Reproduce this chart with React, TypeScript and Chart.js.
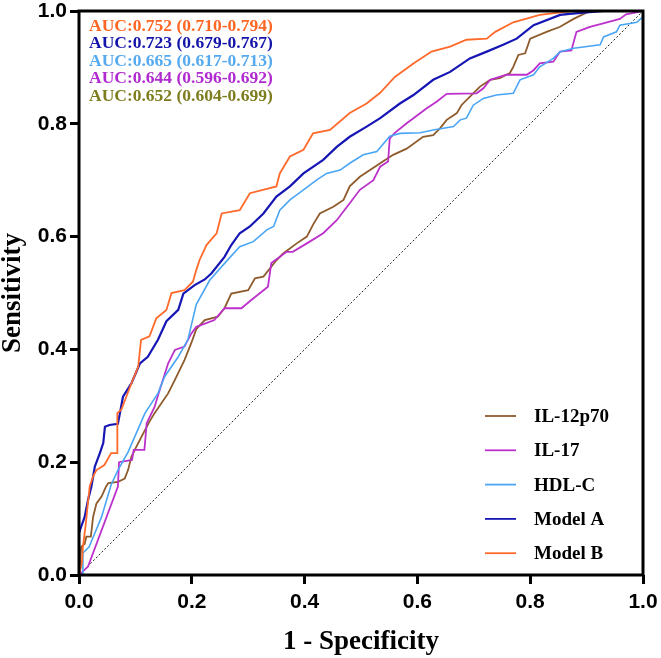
import React, { useEffect, useRef } from "react";
import { Chart, registerables } from "chart.js";
Chart.register(...registerables);

// ---- Data ----
const seriesNames = ["IL-12p70", "IL-17", "HDL-C", "Model A", "Model B"];
const seriesColors = ["#8E5B2C", "#BC30CC", "#4AA6F5", "#1616B4", "#FF6A2B"];

const il12_fpr = [0, 0.004, 0.01, 0.013, 0.021, 0.025, 0.031, 0.04, 0.048, 0.052, 0.069, 0.081, 0.087, 0.093, 0.102, 0.116, 0.125, 0.134, 0.158, 0.17, 0.187, 0.199, 0.208, 0.223, 0.246, 0.258, 0.27, 0.3, 0.312, 0.327, 0.35, 0.362, 0.386, 0.404, 0.416, 0.427, 0.451, 0.469, 0.48, 0.498, 0.516, 0.534, 0.557, 0.581, 0.61, 0.628, 0.64, 0.652, 0.67, 0.678, 0.699, 0.711, 0.729, 0.746, 0.764, 0.77, 0.779, 0.791, 0.8, 0.829, 0.853, 0.877, 0.906, 1.0];
const il12_tpr = [0, 0.05, 0.055, 0.068, 0.068, 0.103, 0.127, 0.139, 0.157, 0.163, 0.165, 0.171, 0.186, 0.21, 0.228, 0.255, 0.272, 0.287, 0.322, 0.346, 0.381, 0.411, 0.436, 0.452, 0.458, 0.473, 0.499, 0.505, 0.526, 0.529, 0.558, 0.57, 0.588, 0.6, 0.623, 0.641, 0.653, 0.665, 0.689, 0.706, 0.718, 0.73, 0.745, 0.756, 0.777, 0.78, 0.792, 0.807, 0.819, 0.833, 0.854, 0.866, 0.878, 0.881, 0.89, 0.901, 0.922, 0.925, 0.951, 0.963, 0.972, 0.986, 1.0, 1.0];

const il17_fpr = [0, 0.016, 0.069, 0.071, 0.094, 0.097, 0.116, 0.12, 0.134, 0.143, 0.158, 0.17, 0.187, 0.199, 0.208, 0.24, 0.258, 0.288, 0.306, 0.335, 0.341, 0.368, 0.379, 0.404, 0.433, 0.457, 0.48, 0.498, 0.522, 0.534, 0.548, 0.551, 0.56, 0.581, 0.593, 0.616, 0.634, 0.652, 0.705, 0.717, 0.729, 0.758, 0.794, 0.806, 0.817, 0.841, 0.853, 0.873, 0.882, 0.906, 0.936, 0.959, 0.97, 1.0];
const il17_tpr = [0, 0.015, 0.157, 0.2, 0.204, 0.222, 0.222, 0.269, 0.298, 0.328, 0.375, 0.399, 0.405, 0.428, 0.44, 0.452, 0.473, 0.473, 0.488, 0.511, 0.553, 0.573, 0.573, 0.588, 0.606, 0.629, 0.659, 0.683, 0.7, 0.724, 0.733, 0.774, 0.784, 0.801, 0.81, 0.827, 0.839, 0.853, 0.854, 0.863, 0.878, 0.887, 0.887, 0.895, 0.907, 0.91, 0.928, 0.93, 0.963, 0.972, 0.98, 0.986, 0.994, 1.0];

const hdl_fpr = [0, 0.007, 0.007, 0.018, 0.028, 0.04, 0.057, 0.069, 0.087, 0.117, 0.14, 0.152, 0.176, 0.193, 0.208, 0.232, 0.262, 0.285, 0.309, 0.333, 0.345, 0.356, 0.374, 0.398, 0.421, 0.439, 0.463, 0.48, 0.504, 0.528, 0.551, 0.569, 0.605, 0.628, 0.664, 0.676, 0.687, 0.699, 0.717, 0.74, 0.77, 0.782, 0.806, 0.817, 0.841, 0.853, 0.877, 0.924, 0.93, 0.953, 0.959, 0.989, 1.0, 1.0];
const hdl_tpr = [0, 0, 0.039, 0.05, 0.074, 0.103, 0.16, 0.186, 0.218, 0.287, 0.322, 0.352, 0.387, 0.417, 0.48, 0.523, 0.557, 0.582, 0.591, 0.612, 0.618, 0.647, 0.665, 0.683, 0.7, 0.712, 0.718, 0.73, 0.745, 0.751, 0.778, 0.783, 0.784, 0.789, 0.795, 0.807, 0.81, 0.833, 0.845, 0.851, 0.854, 0.878, 0.887, 0.901, 0.916, 0.928, 0.934, 0.94, 0.954, 0.963, 0.975, 0.98, 0.99, 1.0];

const modelA_fpr = [0, 0, 0.004, 0.01, 0.016, 0.022, 0.028, 0.037, 0.043, 0.046, 0.054, 0.069, 0.078, 0.093, 0.108, 0.122, 0.14, 0.155, 0.176, 0.185, 0.205, 0.223, 0.235, 0.258, 0.27, 0.285, 0.303, 0.327, 0.35, 0.374, 0.398, 0.433, 0.457, 0.48, 0.51, 0.534, 0.569, 0.593, 0.628, 0.658, 0.693, 0.723, 0.752, 0.776, 0.806, 0.853, 0.87, 0.93, 1.0];
const modelA_tpr = [0, 0.074, 0.086, 0.103, 0.133, 0.157, 0.192, 0.216, 0.234, 0.263, 0.266, 0.268, 0.316, 0.34, 0.375, 0.387, 0.417, 0.45, 0.47, 0.499, 0.514, 0.524, 0.535, 0.564, 0.585, 0.606, 0.618, 0.641, 0.671, 0.689, 0.712, 0.736, 0.759, 0.777, 0.795, 0.81, 0.836, 0.851, 0.878, 0.892, 0.916, 0.928, 0.94, 0.951, 0.975, 0.993, 0.995, 1.0, 1.0];

const modelB_fpr = [0, 0.005, 0.007, 0.012, 0.015, 0.019, 0.025, 0.031, 0.045, 0.057, 0.068, 0.068, 0.075, 0.093, 0.105, 0.11, 0.125, 0.137, 0.155, 0.164, 0.187, 0.202, 0.208, 0.214, 0.226, 0.244, 0.253, 0.285, 0.303, 0.35, 0.356, 0.374, 0.398, 0.415, 0.445, 0.48, 0.51, 0.534, 0.56, 0.593, 0.625, 0.658, 0.687, 0.723, 0.738, 0.77, 0.817, 0.858, 0.875, 1.0];
const modelB_tpr = [0, 0.02, 0.05, 0.09, 0.12, 0.157, 0.175, 0.186, 0.195, 0.216, 0.216, 0.287, 0.293, 0.34, 0.369, 0.417, 0.423, 0.455, 0.47, 0.5, 0.505, 0.52, 0.541, 0.559, 0.585, 0.606, 0.641, 0.647, 0.677, 0.689, 0.712, 0.742, 0.754, 0.783, 0.789, 0.819, 0.836, 0.855, 0.883, 0.907, 0.928, 0.937, 0.949, 0.951, 0.963, 0.98, 0.993, 0.998, 1.0, 1.0];

const aucTexts = [
  "AUC:0.752 (0.710-0.794)",
  "AUC:0.723 (0.679-0.767)",
  "AUC:0.665 (0.617-0.713)",
  "AUC:0.644 (0.596-0.692)",
  "AUC:0.652 (0.604-0.699)",
];
const aucColors = ["#FF6624", "#1414AA", "#55AAF0", "#B02AD0", "#7D7D1E"];

const tickValues = [0, 0.2, 0.4, 0.6, 0.8, 1.0];
const xTitle = "1 - Specificity";
const yTitle = "Sensitivity";

const seriesFpr = [il12_fpr, il17_fpr, hdl_fpr, modelA_fpr, modelB_fpr];
const seriesTpr = [il12_tpr, il17_tpr, hdl_tpr, modelA_tpr, modelB_tpr];
const seriesWidths = [1.8, 1.8, 1.6, 2.2, 1.8];

const SERIF = "'Liberation Serif', 'Times New Roman', serif";
const SANS = "'Liberation Sans', Arial, sans-serif";

const overlayPlugin = {
  id: "overlay",
  afterDatasetsDraw(chart: any) {
    const { ctx, chartArea } = chart;
    const { left, right, top, bottom } = chartArea;
    ctx.save();
    // frame
    ctx.strokeStyle = "#000";
    ctx.lineWidth = 3;
    ctx.strokeRect(left, top, right - left, bottom - top);

    // AUC texts
    ctx.font = `bold 17.5px ${SERIF}`;
    ctx.textAlign = "left";
    ctx.textBaseline = "middle";
    aucTexts.forEach((t, i) => {
      ctx.fillStyle = aucColors[i];
      ctx.fillText(t, left + 10, top + 15 + i * 17.6);
    });

    // legend
    ctx.font = `bold 19px ${SERIF}`;
    seriesNames.forEach((name, i) => {
      const y = 416 + i * 34.3;
      ctx.strokeStyle = seriesColors[i];
      ctx.lineWidth = 1.8;
      ctx.beginPath();
      ctx.moveTo(485, y);
      ctx.lineTo(516, y);
      ctx.stroke();
      ctx.fillStyle = "#000";
      ctx.fillText(name, 534, y + 1);
    });
    ctx.restore();
  },
};

export default function App() {
  const ref = useRef<HTMLCanvasElement | null>(null);
  useEffect(() => {
    if (!ref.current) return;
    const datasets: any[] = seriesNames.map((name, i) => ({
      label: name,
      data: seriesFpr[i].map((x, j) => ({ x, y: seriesTpr[i][j] })),
      borderColor: seriesColors[i],
      backgroundColor: seriesColors[i],
      borderWidth: seriesWidths[i],
      pointRadius: 0,
      tension: 0,
      fill: false,
      order: seriesNames.length - i,
    }));
    datasets.push({
      label: "ref",
      data: [{ x: 0, y: 0 }, { x: 1, y: 1 }],
      borderColor: "#222",
      borderWidth: 1,
      borderDash: [2, 2],
      pointRadius: 0,
      fill: false,
      order: 20,
    });
    const tickFont = { family: SANS, weight: "bold" as const, size: 21, lineHeight: 1.2 };
    const titleFont = { family: SERIF, weight: "bold" as const, size: 27, lineHeight: 1 };
    const chart = new Chart(ref.current, {
      type: "line",
      data: { datasets },
      plugins: [overlayPlugin],
      options: {
        animation: false,
        responsive: false,
        maintainAspectRatio: false,
        layout: { padding: { left: 0, top: 11, right: 18, bottom: 0 } },
        plugins: { legend: { display: false }, tooltip: { enabled: false } },
        scales: {
          x: {
            type: "linear",
            min: 0,
            max: 1,
            afterFit: (s: any) => {
              s.height = 83;
              s.paddingLeft = 0;
              s.paddingRight = 0;
              s.paddingTop = 0;
              s.paddingBottom = 0;
            },
            afterBuildTicks: (s: any) => { s.ticks = tickValues.map((v) => ({ value: v })); },
            ticks: { color: "#000", font: tickFont, padding: 6, callback: (v: any) => Number(v).toFixed(1), maxRotation: 0 },
            grid: { drawOnChartArea: false, drawTicks: true, tickLength: 9, tickWidth: 3, tickColor: "#000", color: "#000" },
            border: { display: false },
            title: { display: true, text: xTitle, color: "#000", font: titleFont, padding: { top: 0, bottom: 2 } },
          },
          y: {
            type: "linear",
            min: 0,
            max: 1,
            afterFit: (s: any) => {
              s.width = 79;
              s.paddingLeft = 0;
              s.paddingRight = 0;
              s.paddingTop = 0;
              s.paddingBottom = 0;
            },
            afterBuildTicks: (s: any) => { s.ticks = tickValues.map((v) => ({ value: v })); },
            ticks: { color: "#000", font: tickFont, padding: 3, callback: (v: any) => Number(v).toFixed(1) },
            grid: { drawOnChartArea: false, drawTicks: true, tickLength: 9, tickWidth: 3, tickColor: "#000", color: "#000" },
            border: { display: false },
            title: { display: true, text: yTitle, color: "#000", font: titleFont, padding: { top: 0, bottom: 0 } },
          },
        },
      } as any,
    });
    return () => chart.destroy();
  }, []);
  return (
    <div style={{ position: "absolute", left: 0, top: 0, width: 661, height: 658, background: "#fff" }}>
      <canvas ref={ref} width={661} height={658} style={{ width: 661, height: 658, display: "block" }} />
    </div>
  );
}
